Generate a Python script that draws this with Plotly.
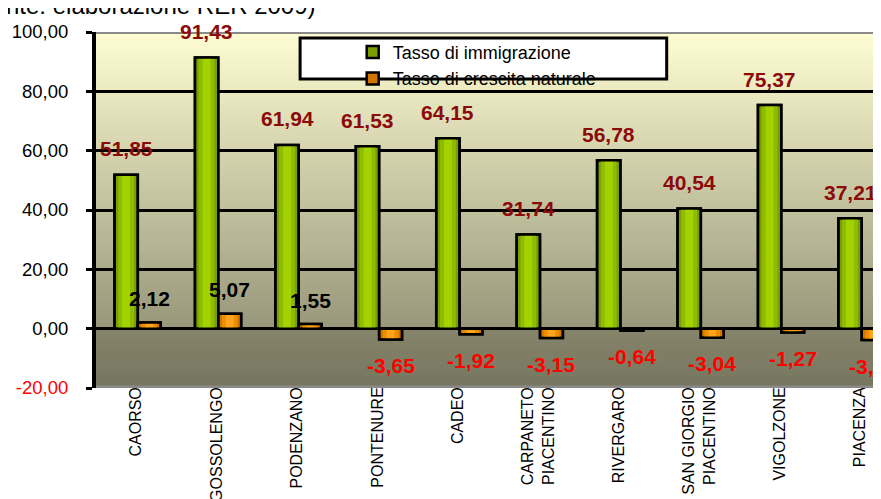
import plotly.graph_objects as go

# ---------------- data ----------------
categories = ["CAORSO", "GOSSOLENGO", "PODENZANO", "PONTENURE", "CADEO",
              "CARPANETO<br>PIACENTINO", "RIVERGARO", "SAN GIORGIO<br>PIACENTINO",
              "VIGOLZONE", "PIACENZA"]
immigrazione = [51.85, 91.43, 61.94, 61.53, 64.15, 31.74, 56.78, 40.54, 75.37, 37.21]
crescita = [2.12, 5.07, 1.55, -3.65, -1.92, -3.15, -0.64, -3.04, -1.27, -3.85]
y_ticks = [-20, 0, 20, 40, 60, 80, 100]
y_tick_labels = ['<span style="color:#ff0000">-20,00</span>', "0,00", "20,00",
                 "40,00", "60,00", "80,00", "100,00"]
series_names = ["Tasso di immigrazione", "Tasso di crescita naturale"]
source_note = "(Fonte: elaborazione RER 2009)"

FONT = "Liberation Sans, Arial, sans-serif"
x = list(range(len(categories)))
X_MIN, X_MAX = -0.5, 9.26
Y_MIN, Y_MAX = -20, 100


def fmt(v):
    return f"{v:.2f}".replace(".", ",")


fig = go.Figure()

# ---- bars with simulated cylinder shading ----
def add_bars(vals, name, off, w, colors):
    outer, mid, center = colors
    fig.add_trace(go.Bar(x=x, y=vals, name=name, offset=off, width=w,
                         marker=dict(color=outer, line=dict(color="black", width=2.5))))
    fig.add_trace(go.Bar(x=x, y=vals, showlegend=False, offset=off + w * 0.16, width=w * 0.68,
                         marker=dict(color=mid, line=dict(width=0))))
    fig.add_trace(go.Bar(x=x, y=vals, showlegend=False, offset=off + w * 0.33, width=w * 0.34,
                         marker=dict(color=center, line=dict(width=0))))
    fig.add_trace(go.Bar(x=x, y=vals, showlegend=False, offset=off, width=w,
                         marker=dict(color="rgba(0,0,0,0)", line=dict(color="black", width=2.5))))


G_OFF, G_W = -0.27, 0.29
O_OFF, O_W = 0.02, 0.285
add_bars(immigrazione, series_names[0], G_OFF, G_W, ("#7a9f00", "#8fbb00", "#a2d300"))
add_bars(crescita, series_names[1], O_OFF, O_W, ("#d27400", "#ee8d00", "#ffa41f"))

# ---- value labels ----
annotations = []
for i, v in enumerate(immigrazione):
    annotations.append(dict(x=i + G_OFF + G_W / 2, y=v, xref="x", yref="y", text=fmt(v),
                            showarrow=False, yanchor="middle", yshift=26,
                            font=dict(family=FONT, size=21, color="#8b0a0a", weight="bold")))
for i, v in enumerate(crescita):
    annotations.append(dict(x=i + O_OFF + O_W / 2, y=v, xref="x", yref="y", text=fmt(v),
                            showarrow=False, yanchor="middle", yshift=24 if v >= 0 else -26,
                            font=dict(family=FONT, size=21,
                                      color="#000000" if v >= 0 else "#ff0000", weight="bold")))
annotations.append(dict(x=0.2825, y=1.0745, xref="paper", yref="paper", text=source_note,
                        showarrow=False, xanchor="right", yanchor="middle",
                        font=dict(family=FONT, size=24, color="black")))

# ---- background gradient (style only) ----
shapes = []
def lerp(c1, c2, t):
    return "rgb(%d,%d,%d)" % tuple(round(a + (b - a) * t) for a, b in zip(c1, c2))

top_c, zero_c = (254, 253, 210), (152, 151, 122)
n = 50
for k in range(n):
    y0 = k * Y_MAX / n
    y1 = (k + 1) * Y_MAX / n
    shapes.append(dict(type="rect", xref="x", yref="y", x0=X_MIN, x1=X_MAX, y0=y0, y1=y1 + 0.3,
                       fillcolor=lerp(zero_c, top_c, (k + 0.5) / n), line=dict(width=0),
                       layer="below"))
fl_top, fl_bot = (134, 133, 107), (118, 117, 94)
m = 10
for k in range(m):
    y1 = -k * 2.0
    y0 = -(k + 1) * 2.0
    shapes.append(dict(type="rect", xref="x", yref="y", x0=X_MIN, x1=X_MAX, y0=y0 - 0.3, y1=y1,
                       fillcolor=lerp(fl_top, fl_bot, (k + 0.5) / m), line=dict(width=0),
                       layer="below"))
# wall edges
shapes.append(dict(type="line", xref="x", yref="y", x0=X_MIN, x1=X_MAX, y0=Y_MAX, y1=Y_MAX,
                   line=dict(color="#8a8a8a", width=4), layer="above"))
shapes.append(dict(type="line", xref="x", yref="y", x0=X_MIN, x1=X_MAX, y0=Y_MIN, y1=Y_MIN,
                   line=dict(color="#8a8a8a", width=5), layer="above"))
# legend frame
shapes.append(dict(type="rect", xref="paper", yref="paper", x0=0.260, x1=0.727, y0=0.868, y1=0.983,
                   fillcolor="white", line=dict(color="black", width=3), layer="above"))

# The page body adds an 8 px offset, so the figure is 8 px smaller than the window.
fig.update_layout(
    width=873, height=491,
    margin=dict(l=88, r=0, t=24, b=111, autoexpand=False),
    paper_bgcolor="white", plot_bgcolor="rgba(0,0,0,0)",
    barmode="overlay", hovermode=False,
    font=dict(family=FONT, color="black"),
    shapes=shapes, annotations=annotations,
    legend=dict(x=0.327, y=0.995, xanchor="left", yanchor="top",
                bgcolor="rgba(0,0,0,0)", borderwidth=0,
                font=dict(family=FONT, size=18, color="black"),
                itemwidth=30, tracegroupgap=0),
    xaxis=dict(range=[X_MIN, X_MAX], tickmode="array", tickvals=x, ticktext=categories,
               tickangle=-90, tickfont=dict(family=FONT, size=16, color="black"),
               showgrid=False, zeroline=False, showline=False, ticks="",
               automargin=False, ticklabelstandoff=-5),
    yaxis=dict(range=[Y_MIN, Y_MAX], tickmode="array", tickvals=y_ticks, ticktext=y_tick_labels,
               tickfont=dict(family=FONT, size=18.5, color="black"),
               showgrid=True, gridcolor="black", gridwidth=3,
               zeroline=True, zerolinecolor="black", zerolinewidth=3,
               showline=True, linecolor="black", linewidth=4,
               ticks="outside", ticklen=6, tickwidth=3, tickcolor="black",
               ticklabelstandoff=14, automargin=False),
)

fig.write_html("out.html")
